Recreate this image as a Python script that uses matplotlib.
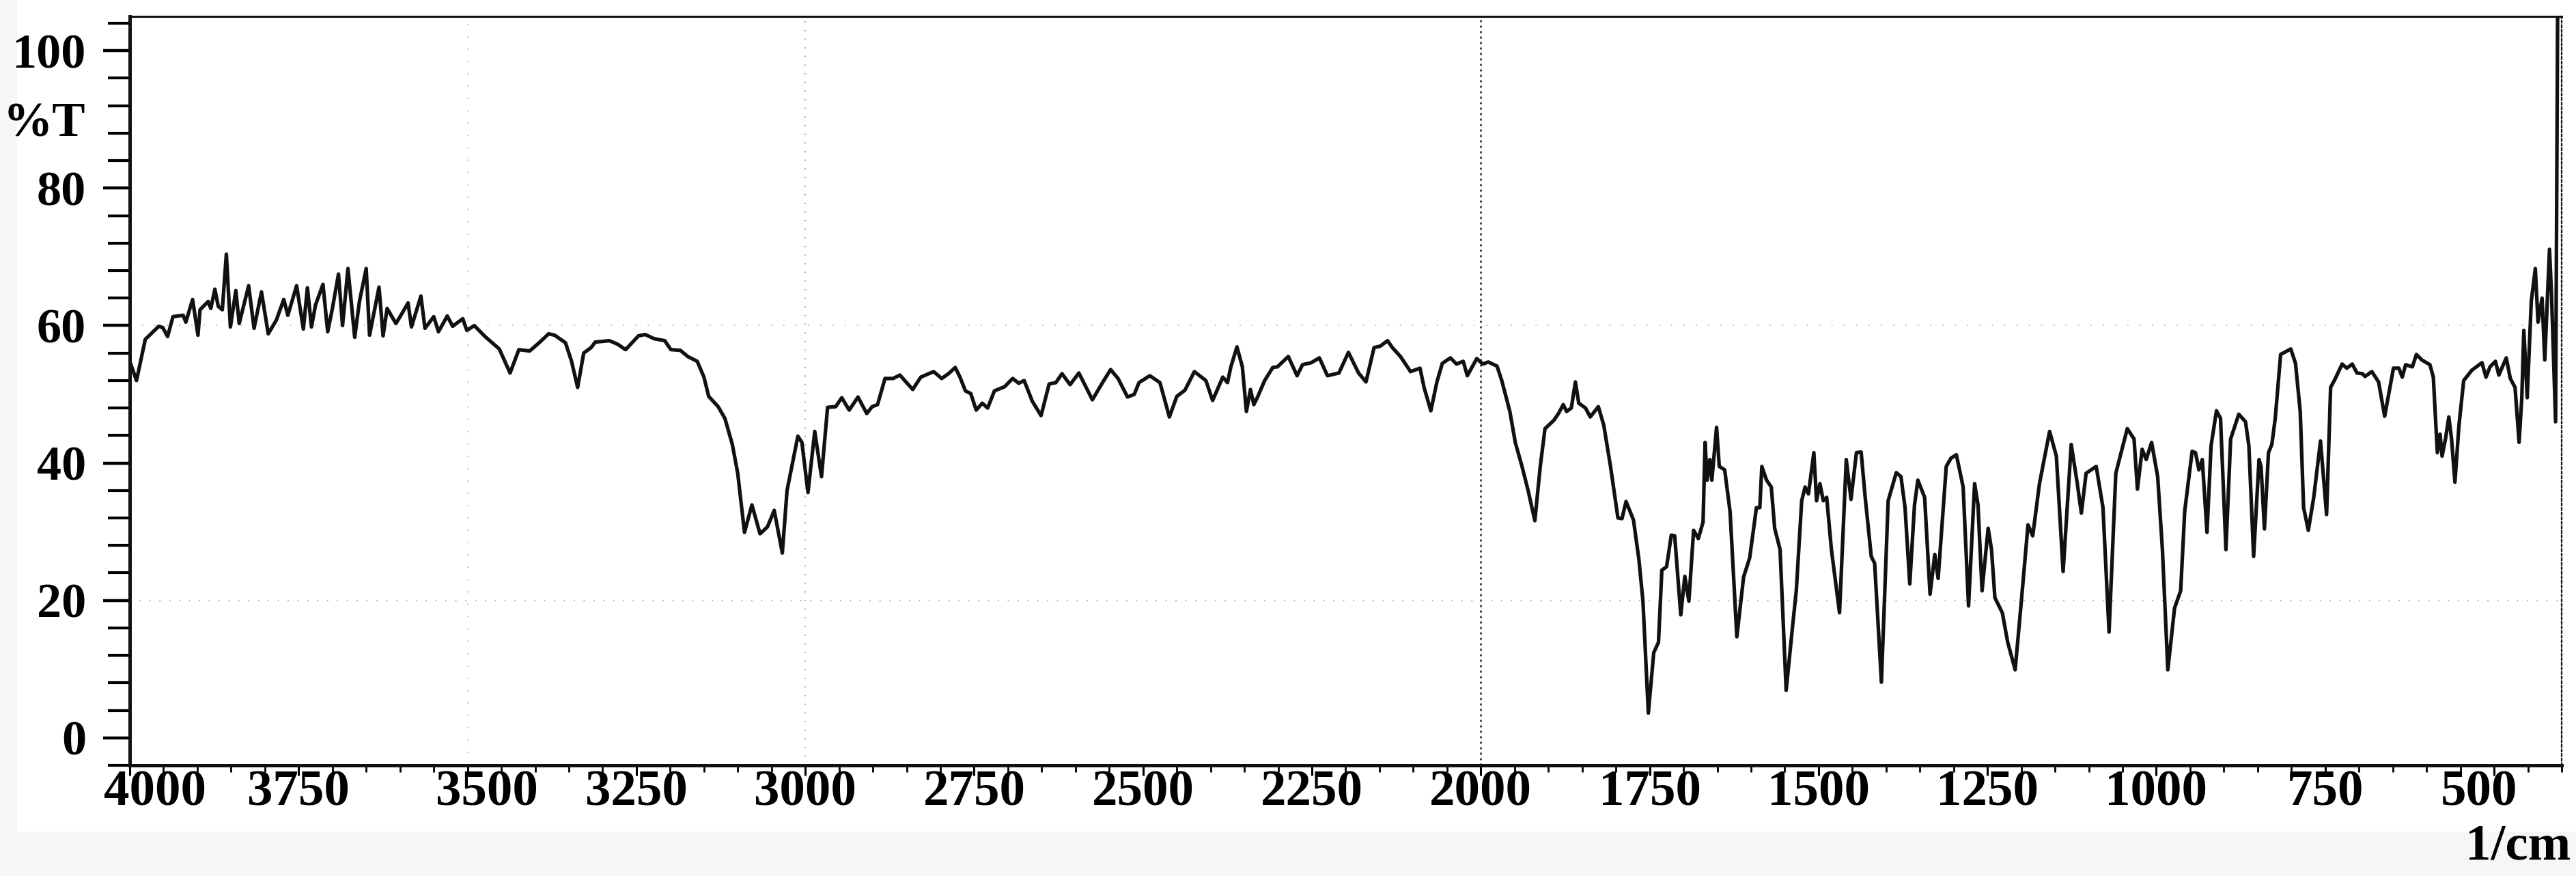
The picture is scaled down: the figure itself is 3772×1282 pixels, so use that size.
import numpy as np
import matplotlib
matplotlib.use("Agg")
import matplotlib.pyplot as plt
import matplotlib.transforms as mtrans
from matplotlib.ticker import MultipleLocator, FixedLocator
from matplotlib.patches import Rectangle

# ---------------- data ----------------
wn_high = [4000, 3990, 3977, 3957, 3951, 3944, 3936, 3921, 3917, 3907, 3899, 3896, 3884, 3880,
           3874, 3869, 3863, 3857, 3851, 3843, 3838, 3824, 3816, 3805, 3795, 3783, 3772, 3766,
           3753, 3743, 3737, 3731, 3725, 3714, 3707, 3700, 3691, 3685, 3677, 3667, 3660, 3650,
           3645, 3631, 3625, 3619, 3606, 3598, 3588, 3583, 3569, 3563, 3550, 3543, 3530, 3522,
           3507, 3501, 3490, 3474, 3453, 3437, 3424, 3408, 3394, 3380, 3371, 3355, 3346, 3337,
           3328, 3317, 3311, 3290, 3278, 3266, 3247, 3237, 3224, 3208, 3199, 3185, 3174, 3160,
           3150, 3143, 3129, 3119, 3108, 3100, 3090, 3079, 3067, 3056, 3046, 3034, 3027, 3011,
           3005, 2996, 2986, 2976, 2967, 2955, 2946, 2935, 2922, 2909, 2901, 2893, 2882, 2870,
           2860, 2841, 2829, 2810, 2798]
t_high = [54.8, 52.0, 58.0, 59.9, 59.7, 58.4, 61.3, 61.5, 60.5, 63.8, 58.6, 62.3, 63.5, 62.5,
          65.3, 62.8, 62.3, 70.4, 59.8, 65.1, 60.3, 65.8, 59.6, 64.9, 58.8, 60.8, 63.8, 61.5,
          65.8, 59.5, 65.5, 59.8, 63.0, 66.0, 59.1, 62.5, 67.5, 60.0, 68.3, 58.3, 63.5, 68.3,
          58.6, 65.6, 58.5, 62.5, 60.3, 61.6, 63.3, 59.8, 64.3, 59.6, 61.3, 59.1, 61.4, 59.9,
          61.0, 59.3, 60.0, 58.4, 56.6, 53.1, 56.5, 56.3, 57.5, 58.8, 58.6, 57.5, 54.8, 51.0,
          56.0, 56.8, 57.6, 57.8, 57.3, 56.5, 58.5, 58.7, 58.1, 57.8, 56.5, 56.4, 55.5, 54.8,
          52.5, 49.7, 48.2, 46.5, 42.7, 38.5, 29.9, 33.9, 29.7, 30.7, 33.1, 26.9, 36.0, 43.9,
          43.0, 35.7, 44.6, 38.0, 48.1, 48.2, 49.5, 47.7, 49.6, 47.2, 48.2, 48.5, 52.3, 52.3,
          52.8, 50.7, 52.5, 53.3, 52.3]

wn_mid = [2788, 2778, 2771, 2763, 2755, 2747, 2738, 2730, 2720, 2705, 2693, 2684, 2676, 2664,
          2651, 2639, 2629, 2620, 2608, 2595, 2575, 2560, 2548, 2537, 2523, 2513, 2506, 2490,
          2475, 2461, 2450, 2438, 2424, 2407, 2397, 2382, 2375, 2370, 2361, 2353, 2347, 2341,
          2336, 2330, 2320, 2308, 2301, 2285, 2272, 2264, 2251, 2239, 2227, 2210, 2196, 2181,
          2170, 2158, 2149, 2138, 2131, 2119, 2104, 2090, 2084, 2074, 2065, 2057, 2045, 2036,
          2026, 2020, 2006, 1997, 1989, 1976, 1969, 1957, 1949, 1939, 1930, 1920, 1912, 1905,
          1892, 1885, 1878, 1873, 1866, 1860, 1855, 1845, 1838, 1826, 1818, 1808, 1797, 1791,
          1785, 1774]
t_mid = [53.0, 53.9, 52.5, 50.5, 50.1, 47.7, 48.7, 48.0, 50.5, 51.1, 52.3, 51.6, 52.0, 49.0,
         46.9, 51.5, 51.7, 53.0, 51.4, 53.1, 49.2, 51.7, 53.6, 52.3, 49.6, 50.0, 51.7, 52.7,
         51.7, 46.7, 49.7, 50.6, 53.3, 52.0, 49.1, 52.5, 51.7, 54.0, 56.9, 54.0, 47.5, 50.7,
         48.5, 49.7, 52.0, 53.9, 54.0, 55.5, 52.7, 54.3, 54.6, 55.3, 52.7, 53.1, 56.1, 53.1,
         51.8, 56.8, 57.0, 57.8, 56.8, 55.5, 53.3, 53.8, 51.0, 47.6, 51.8, 54.5, 55.3, 54.4,
         54.8, 52.7, 55.2, 54.4, 54.7, 54.1, 52.0, 47.5, 43.0, 39.5, 36.0, 31.6, 39.5, 45.0,
         46.2, 47.2, 48.5, 47.5, 48.0, 51.8, 48.7, 48.0, 46.7, 48.2, 45.5, 39.5, 32.0, 31.9,
         34.4, 31.7]

wn_fp = [1766, 1760, 1752, 1744, 1737, 1732, 1725, 1718, 1713, 1704, 1698, 1692, 1685, 1678,
         1671, 1668, 1665, 1661, 1658, 1651, 1647, 1639, 1631, 1621, 1611, 1602, 1592, 1587,
         1584, 1577, 1570, 1565, 1557, 1548, 1538, 1533, 1525, 1520, 1515, 1507, 1503, 1498,
         1493, 1488, 1481, 1469, 1459, 1452, 1444, 1437, 1431, 1422, 1417, 1407, 1397, 1385,
         1378, 1372, 1365, 1358, 1353, 1343, 1335, 1328, 1323, 1311, 1304, 1296, 1286, 1278,
         1269, 1264, 1258, 1249, 1244, 1239, 1228, 1220, 1209, 1200, 1190, 1183, 1173, 1158,
         1148, 1138, 1126, 1117, 1111, 1104, 1089, 1079, 1070, 1060, 1043, 1033, 1028, 1021,
         1015, 1007, 998, 991, 983, 973, 964]
t_fp = [26.0, 19.9, 3.6, 12.4, 13.9, 24.4, 24.9, 29.5, 29.4, 17.9, 23.5, 19.9, 30.2, 29.0,
        31.4, 43.0, 37.5, 40.5, 37.5, 45.2, 39.5, 39.0, 32.9, 14.7, 23.4, 26.2, 33.5, 33.5,
        39.5, 37.5, 36.5, 30.5, 27.4, 6.9, 16.7, 21.4, 34.5, 36.5, 35.5, 41.5, 34.5, 37.0,
        34.5, 35.0, 27.4, 18.2, 40.5, 34.7, 41.5, 41.6, 35.0, 26.4, 25.4, 8.1, 34.5, 38.6,
        38.0, 33.5, 22.4, 33.9, 37.5, 35.0, 20.9, 26.7, 23.2, 39.5, 40.7, 41.2, 36.5, 19.2,
        37.0, 33.9, 21.4, 30.5, 27.4, 20.4, 18.2, 13.9, 9.9, 19.7, 31.0, 29.4, 37.0, 44.6,
        41.0, 24.2, 42.7, 37.0, 32.7, 38.5, 39.5, 33.5, 15.4, 38.5, 45.0, 43.5, 36.2, 42.0,
        40.5, 43.0, 38.0, 27.4, 9.9, 18.9, 21.4]

wn_low = [958, 947, 942, 937, 932, 925, 919, 911, 905, 897, 890, 878, 868, 863, 856, 848, 845,
          840, 834, 829, 824, 816, 801, 794, 787, 782, 775, 767, 757, 748, 742, 735, 725, 718,
          710, 703, 695, 691, 681, 671, 662, 649, 641, 636, 631, 621, 615, 607, 595, 590, 584,
          580, 577, 572, 567, 563, 558, 552, 545, 533, 518, 512, 506, 498, 493, 482, 476, 469,
          463, 459, 456, 451, 445, 439, 435, 429, 425, 418, 415, 409, 406]
t_low = [33.0, 41.7, 41.5, 39.0, 40.5, 29.9, 42.5, 47.6, 46.5, 27.4, 43.5, 47.1, 46.0, 42.5,
         26.4, 40.5, 39.5, 30.4, 41.5, 42.7, 46.5, 55.8, 56.6, 54.5, 47.5, 33.5, 30.2, 35.0,
         43.2, 32.5, 51.0, 52.3, 54.4, 53.8, 54.4, 53.1, 53.0, 52.6, 53.3, 51.8, 46.8, 53.8,
         53.8, 52.5, 54.3, 54.0, 55.8, 55.0, 54.3, 52.5, 41.5, 44.2, 41.0, 43.5, 46.7, 43.5,
         37.2, 45.5, 52.0, 53.5, 54.6, 52.5, 54.0, 54.8, 52.8, 55.3, 52.3, 51.0, 43.0, 49.5,
         59.3, 49.5, 63.5, 68.3, 60.5, 64.0, 55.0, 71.1, 64.5, 46.0, 105.0]

x_ticks = [4000, 3750, 3500, 3250, 3000, 2750, 2500, 2250, 2000, 1750, 1500, 1250, 1000, 750, 500]
x_tick_labels = [str(v) for v in x_ticks]
y_ticks = [0, 20, 40, 60, 80, 100]
y_tick_labels = [str(v) for v in y_ticks]

wavenumber = np.array(wn_high + wn_mid + wn_fp + wn_low, dtype=float)
transmittance = np.array(t_high + t_mid + t_fp + t_low, dtype=float)

# ---------------- figure ----------------
W, H = 3773, 1282
fig = plt.figure(figsize=(W / 100, H / 100), dpi=100, facecolor="#f7f6f4")
fig.patches.append(Rectangle((25 / W, 1 - 1217 / H), 1 - 25 / W, 1217 / H,
                             transform=fig.transFigure, facecolor="white",
                             edgecolor="none", zorder=-10))

left_px, right_px, top_px, bot_px = 190, 3751, 24, 1120
ax = fig.add_axes([left_px / W, 1 - bot_px / H, (right_px - left_px) / W, (bot_px - top_px) / H])
ax.set_facecolor("white")
ax.set_xlim(4000, 400)
ax.set_ylim(-4, 105)

# faint printed grid remnants
ax.axvline(2000, color="#222222", lw=1.8, ls=(0, (1.2, 2.0)), zorder=1)
ax.axvline(3000, color="#999999", lw=1.3, ls=(0, (1, 6)), zorder=1)
ax.axvline(3500, color="#bbbbbb", lw=1.3, ls=(0, (1, 9)), zorder=1)
ax.axhline(20, color="#aaaaaa", lw=1.3, ls=(0, (1, 7)), zorder=1)
ax.axhline(60, color="#bbbbbb", lw=1.3, ls=(0, (1, 9)), zorder=1)

ax.plot(wavenumber, transmittance, color="#111111", lw=3.8,
        solid_joinstyle="round", solid_capstyle="round", clip_on=True, zorder=3)

# ticks
font = "Liberation Serif"
ax.xaxis.set_major_locator(FixedLocator(x_ticks))
ax.xaxis.set_minor_locator(MultipleLocator(50))
ax.set_xticklabels(x_tick_labels, fontsize=54, fontweight="bold", family=font)
ax.tick_params(axis="x", which="major", direction="out", length=11, width=2.2, pad=-6)
ax.tick_params(axis="x", which="minor", direction="out", length=7, width=2.0)

# the printed labels at the ends sit slightly off their ticks
label_shift_px = {4000: 37, 3500: 28, 500: -22}
for lab, val in zip(ax.get_xticklabels(), x_ticks):
    if val in label_shift_px:
        lab.set_transform(lab.get_transform() +
                          mtrans.ScaledTranslation(label_shift_px[val] / 100, 0, fig.dpi_scale_trans))

ax.yaxis.set_major_locator(FixedLocator(y_ticks))
ax.yaxis.set_minor_locator(MultipleLocator(4))
ax.set_yticklabels(y_tick_labels, fontsize=52, fontweight="bold", family=font)
ax.tick_params(axis="y", which="major", direction="out", length=28, width=3.2, pad=18)
ax.tick_params(axis="y", which="minor", direction="out", length=23, width=3.0)

for side, lw in (("left", 3.6), ("bottom", 3.6), ("top", 2.2), ("right", 1.6)):
    ax.spines[side].set_linewidth(lw)
    ax.spines[side].set_color("#111111")
ax.spines["right"].set_linestyle((0, (1.5, 1.5)))

fig.text(125 / W, 1 - 182 / H, "%T", ha="right", va="center", fontsize=52,
         fontweight="bold", family=font)
fig.text(3764 / W, 1 - 1240 / H, "1/cm", ha="right", va="center", fontsize=54,
         fontweight="bold", family=font)

fig.savefig("out.png", dpi=100, facecolor=fig.get_facecolor())
